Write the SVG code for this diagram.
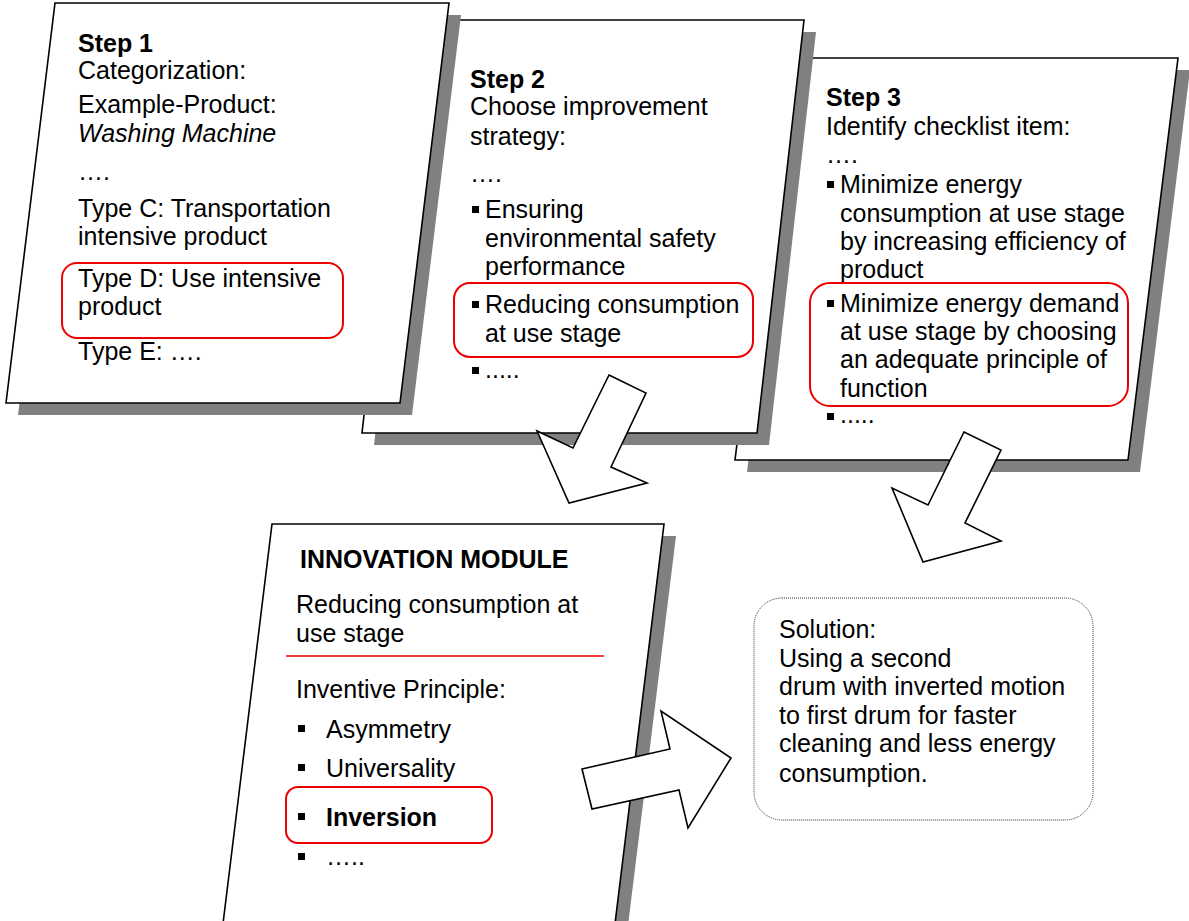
<svg xmlns="http://www.w3.org/2000/svg" width="1189" height="921" viewBox="0 0 1189 921">
<style>
text{font-family:"Liberation Sans",Arial,sans-serif;font-size:25px;fill:#000}
.b{font-weight:bold}
.i{font-style:italic}
.card{fill:#fff;stroke:#000;stroke-width:1.6}
.sh{fill:#808080}
.hl{fill:none;stroke:#e00;stroke-width:2}
.arr{fill:#fff;stroke:#000;stroke-width:1.6;stroke-linejoin:miter}
.bul{fill:#000}
</style>
<rect width="1189" height="921" fill="#fff"/>

<g id="step3">
<polygon class="sh" points="797,70 1190,70 1140,472 747,472"/>
<polygon class="card" points="785,58 1178,58 1128,460 735,460"/>
<text x="826" y="106" class="b">Step 3</text>
<text x="826" y="135">Identify checklist item:</text>
<text x="826" y="163">….</text>
<rect class="bul" x="827" y="181" width="7" height="7"/>
<text x="840" y="193">Minimize energy</text>
<text x="840" y="222">consumption at use stage</text>
<text x="840" y="250">by increasing efficiency of</text>
<text x="840" y="278">product</text>
<rect class="bul" x="827" y="300" width="7" height="7"/>
<text x="840" y="312">Minimize energy demand</text>
<text x="840" y="340">at use stage by choosing</text>
<text x="840" y="368">an adequate principle of</text>
<text x="840" y="397">function</text>
<rect class="hl" x="810" y="283" width="318" height="123" rx="20"/>
<rect class="bul" x="827" y="413" width="7" height="7"/>
<text x="840" y="423">.....</text>
</g>

<g id="step2">
<polygon class="sh" points="421,32 816,32 769,445 374,445"/>
<polygon class="card" points="409,20 804,20 757,433 362,433"/>
<text x="470" y="88" class="b">Step 2</text>
<text x="470" y="115">Choose improvement</text>
<text x="470" y="145">strategy:</text>
<text x="470" y="182">….</text>
<rect class="bul" x="472" y="206" width="7" height="7"/>
<text x="485" y="218">Ensuring</text>
<text x="485" y="247">environmental safety</text>
<text x="485" y="275">performance</text>
<rect class="bul" x="472" y="301" width="7" height="7"/>
<text x="485" y="313">Reducing consumption</text>
<text x="485" y="342">at use stage</text>
<rect class="hl" x="454" y="283" width="299" height="74" rx="16"/>
<rect class="bul" x="472" y="367" width="7" height="7"/>
<text x="485" y="378">.....</text>
</g>

<g id="step1">
<polygon class="sh" points="67,15 461,15 412,415 18,415"/>
<polygon class="card" points="55,3 449,3 400,403 6,403"/>
<text x="78" y="52" class="b">Step 1</text>
<text x="78" y="79">Categorization:</text>
<text x="78" y="113">Example-Product:</text>
<text x="78" y="142" class="i">Washing Machine</text>
<text x="78" y="180">….</text>
<text x="78" y="217">Type C: Transportation</text>
<text x="78" y="245">intensive product</text>
<text x="78" y="287">Type D: Use intensive</text>
<text x="78" y="315">product</text>
<rect class="hl" x="62" y="263" width="281" height="75" rx="15"/>
<text x="78" y="360">Type E: ….</text>
</g>

<g id="innovation">
<polygon class="sh" points="284,536 676,536 625,950 233,950"/>
<polygon class="card" points="272,524 664,524 613,940 221,940"/>
<text x="300" y="568" class="b">INNOVATION MODULE</text>
<text x="296" y="613">Reducing consumption at</text>
<text x="296" y="642">use stage</text>
<line x1="286" y1="656" x2="604" y2="656" stroke="#e00" stroke-width="1.5"/>
<text x="296" y="698">Inventive Principle:</text>
<rect class="bul" x="298" y="725" width="7" height="7"/>
<text x="326" y="738">Asymmetry</text>
<rect class="bul" x="298" y="764" width="7" height="7"/>
<text x="326" y="777">Universality</text>
<rect class="bul" x="298" y="813" width="7" height="7"/>
<text x="326" y="826" class="b">Inversion</text>
<rect class="hl" x="286" y="787" width="206" height="56" rx="12"/>
<rect class="bul" x="298" y="853" width="7" height="7"/>
<text x="326" y="865">…..</text>
</g>

<g id="solution">
<rect x="754" y="598" width="339" height="222" rx="28" fill="#fff" stroke="#333" stroke-width="1" stroke-dasharray="1 1"/>
<text x="779" y="638">Solution:</text>
<text x="779" y="667">Using a second</text>
<text x="779" y="695">drum with inverted motion</text>
<text x="779" y="724">to first drum for faster</text>
<text x="779" y="752">cleaning and less energy</text>
<text x="779" y="782">consumption.</text>
</g>

<g id="connectors">
<polygon class="arr" points="609,375 646,393 611,467 647,483 569,503 537,431 573,448"/>
<polygon class="arr" points="964,432 1001,450 965,523 1001,541 923,562 892,488 928,505"/>
<polygon class="arr" points="582,769 670,749 661,711 731,758 688,828 679,790 592,809"/>
</g>
</svg>
